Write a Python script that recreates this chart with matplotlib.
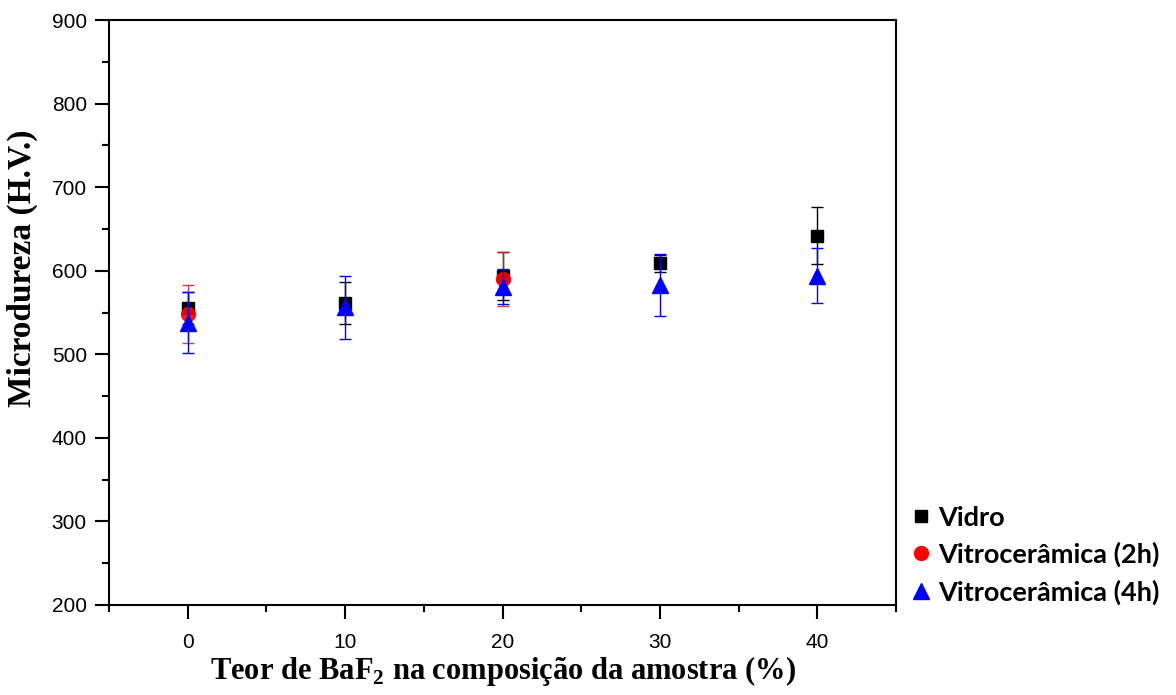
import matplotlib.pyplot as plt
from matplotlib.lines import Line2D
from matplotlib.ticker import MultipleLocator

plt.rcParams['mathtext.fontset'] = 'custom'
plt.rcParams['mathtext.bf'] = 'Liberation Serif:bold'
plt.rcParams['mathtext.rm'] = 'Liberation Serif'

# Microdureza Vickers em função do teor de BaF2
teor_vidro = [0, 10, 20, 30, 40]
hv_vidro = [555, 561, 594, 609, 642]
err_vidro = [19, 25, 29, 10, 34]

teor_2h = [0, 20]
hv_2h = [548, 590]
err_2h = [35, 32]

teor_4h = [0, 10, 20, 30, 40]
hv_4h = [538, 556, 581, 583, 594]
err_4h = [37, 38, 21, 37, 33]

fig = plt.figure(figsize=(11.76, 6.95), dpi=100)
ax = fig.add_axes([0.0927, 0.1295, 0.6693, 0.8417])

ax.errorbar(teor_vidro, hv_vidro, yerr=err_vidro, fmt='s', color='black', ms=9,
            ecolor='black', elinewidth=1, capsize=4.5, capthick=1, zorder=3)
ax.errorbar(teor_2h, hv_2h, yerr=err_2h, fmt='o', color='red', ms=10,
            ecolor='#c03030', elinewidth=1, capsize=4.5, capthick=1, alpha=0.9,
            zorder=4)
ax.errorbar(teor_4h, hv_4h, yerr=err_4h, fmt='^', color='blue', ms=12,
            ecolor='blue', elinewidth=1, capsize=4.5, capthick=1, zorder=5)

ax.set_xlim(-5, 45)
ax.set_ylim(200, 900)
ax.xaxis.set_major_locator(MultipleLocator(10))
ax.xaxis.set_minor_locator(MultipleLocator(5))
ax.yaxis.set_major_locator(MultipleLocator(100))
ax.yaxis.set_minor_locator(MultipleLocator(50))
ax.tick_params(which='major', direction='out', length=10, width=1.5,
               labelsize=15, pad=6)
ax.tick_params(which='minor', direction='out', length=5, width=1.5)
ax.tick_params(axis='x', which='major', pad=10)
for lab in ax.get_xticklabels() + ax.get_yticklabels():
    lab.set_family('Liberation Sans')
for s in ax.spines.values():
    s.set_linewidth(1.5)

ax.set_xlabel('Teor de BaF$_\\mathbf{2}$ na composição da amostra (%)',
              family='Liberation Serif', fontweight='bold', fontsize=22)
ax.xaxis.set_label_coords(0.5, -0.083)
ax.set_ylabel('Microdureza (H.V.)', family='Liberation Serif',
              fontweight='bold', fontsize=24)
ax.yaxis.set_label_coords(-0.09, 0.576)

# legenda só com os marcadores, sem barras de erro
handles = [
    Line2D([], [], ls='none', marker='s', color='black', ms=8),
    Line2D([], [], ls='none', marker='o', color='red', ms=10),
    Line2D([], [], ls='none', marker='^', color='blue', ms=11),
]
labels = ['Vidro', 'Vitrocerâmica (2h)', 'Vitrocerâmica (4h)']
ax.legend(handles, labels, loc='lower left', bbox_to_anchor=(0.985, -0.032),
          frameon=False, prop={'family': 'Lato', 'weight': 'bold', 'size': 19.5},
          handletextpad=0.0, handlelength=1.3, labelspacing=0.45,
          borderaxespad=0.3)

fig.savefig('out.png', dpi=100)
